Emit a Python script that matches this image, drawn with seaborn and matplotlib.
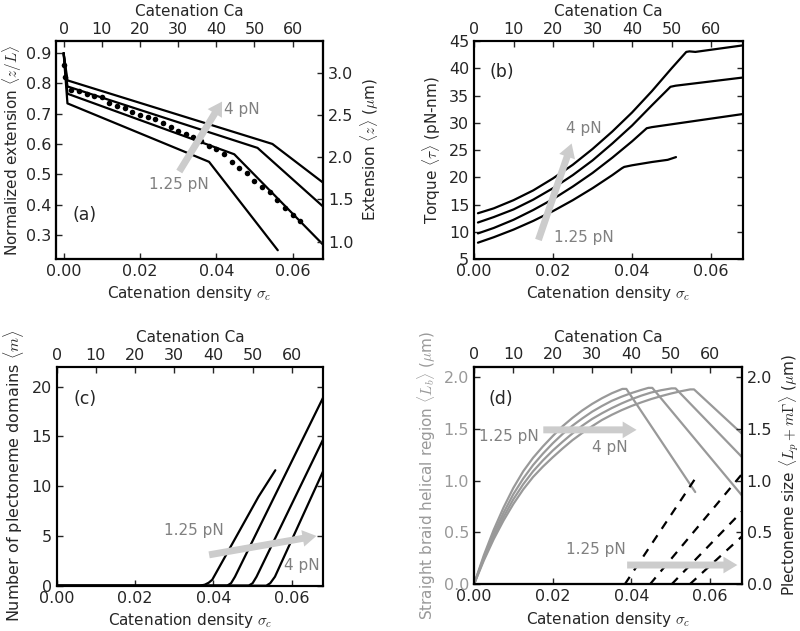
import matplotlib
matplotlib.use('Agg')
import matplotlib.pyplot as plt
import seaborn as sns

sns.set_style('ticks')
plt.rcParams['font.family'] = ['DejaVu Sans']
plt.rcParams['mathtext.fontset'] = 'cm'
plt.rcParams['xtick.direction'] = 'in'
plt.rcParams['ytick.direction'] = 'in'
plt.rcParams['xtick.major.size'] = 4.5
plt.rcParams['ytick.major.size'] = 4.5
plt.rcParams['xtick.major.width'] = 1.0
plt.rcParams['ytick.major.width'] = 1.0
plt.rcParams['xtick.labelsize'] = 11.5
plt.rcParams['ytick.labelsize'] = 11.5
plt.rcParams['axes.labelsize'] = 11
plt.rcParams['axes.linewidth'] = 1.5
plt.rcParams['axes.edgecolor'] = 'black'

# ---- (a) extension vs catenation density ----
sig_a_4 = [0.0, 0.001, 0.0547, 0.068]
ext_a_4 = [0.90, 0.81, 0.600, 0.472]
sig_a_3 = [0.0, 0.001, 0.0508, 0.068]
ext_a_3 = [0.90, 0.79, 0.587, 0.393]
sig_a_2 = [0.0, 0.001, 0.0447, 0.068]
ext_a_2 = [0.90, 0.766, 0.566, 0.267]
sig_a_1 = [0.0, 0.001, 0.0381, 0.0561]
ext_a_1 = [0.90, 0.734, 0.541, 0.249]

sig_dots = [0.0, 0.0004, 0.002, 0.004, 0.006, 0.008, 0.010, 0.012, 0.014, 0.016,
            0.018, 0.020, 0.022, 0.024, 0.026, 0.028, 0.030, 0.032, 0.034, 0.036,
            0.038, 0.040, 0.042, 0.044, 0.046, 0.048, 0.050, 0.052, 0.054, 0.056,
            0.058, 0.060, 0.062]
ext_dots = [0.862, 0.82, 0.777, 0.775, 0.766, 0.760, 0.754, 0.736, 0.727, 0.718,
            0.707, 0.697, 0.690, 0.681, 0.668, 0.657, 0.643, 0.633, 0.624, 0.610,
            0.593, 0.582, 0.566, 0.540, 0.521, 0.503, 0.478, 0.457, 0.441, 0.415,
            0.388, 0.366, 0.346]

# ---- (b) torque ----
sig_b_4 = [0.001, 0.005, 0.01, 0.015, 0.02, 0.025, 0.03, 0.035, 0.04, 0.045, 0.05,
           0.0537, 0.0545, 0.056, 0.068]
tau_b_4 = [13.4, 14.3, 15.8, 17.6, 19.8, 22.3, 25.2, 28.4, 31.9, 35.8, 40.0,
           43.0, 43.1, 43.0, 44.2]
sig_b_3 = [0.001, 0.005, 0.01, 0.015, 0.02, 0.025, 0.03, 0.035, 0.04, 0.045, 0.0497,
           0.051, 0.068]
tau_b_3 = [11.7, 12.7, 14.1, 15.9, 18.0, 20.4, 23.1, 26.2, 29.5, 33.2, 36.6,
           36.8, 38.3]
sig_b_2 = [0.001, 0.005, 0.01, 0.015, 0.02, 0.025, 0.03, 0.035, 0.04, 0.0437, 0.045, 0.068]
tau_b_2 = [9.7, 10.7, 12.2, 14.0, 16.0, 18.3, 20.8, 23.6, 26.6, 29.0, 29.2, 31.6]
sig_b_1 = [0.001, 0.005, 0.01, 0.015, 0.02, 0.025, 0.03, 0.035, 0.0374, 0.038, 0.040,
           0.045, 0.049, 0.0511]
tau_b_1 = [8.0, 9.0, 10.4, 12.0, 13.8, 15.8, 18.0, 20.4, 21.65, 21.9, 22.2,
           22.8, 23.2, 23.7]

# ---- (c) number of plectoneme domains ----
sig_c_1 = [0.0, 0.0365, 0.0378, 0.0388, 0.0397, 0.0515, 0.0558]
m_c_1 = [0.0, 0.0, 0.1, 0.3, 0.6, 8.94, 11.6]
sig_c_2 = [0.0, 0.0435, 0.0445, 0.0455, 0.068]
m_c_2 = [0.0, 0.0, 0.25, 0.9, 18.9]
sig_c_3 = [0.0, 0.049, 0.050, 0.051, 0.068]
m_c_3 = [0.0, 0.0, 0.25, 0.9, 14.7]
sig_c_4 = [0.0, 0.0535, 0.0545, 0.0557, 0.068]
m_c_4 = [0.0, 0.0, 0.25, 0.9, 11.5]

# ---- (d) braid region and plectoneme size ----
sig_d_1 = [0.0, 0.0025, 0.005, 0.0075, 0.01, 0.0125, 0.015, 0.0175, 0.02, 0.0225,
           0.025, 0.0275, 0.03, 0.0325, 0.035, 0.0377, 0.0387, 0.0562]
lb_d_1 = [0.0, 0.28, 0.525, 0.74, 0.93, 1.09, 1.22, 1.33, 1.43, 1.525,
          1.605, 1.677, 1.74, 1.795, 1.843, 1.885, 1.885, 0.89]
sig_d_2 = [0.0, 0.0025, 0.005, 0.0075, 0.01, 0.0125, 0.015, 0.0175, 0.02, 0.0225,
           0.025, 0.0275, 0.03, 0.0325, 0.035, 0.0375, 0.04, 0.0425, 0.0443, 0.0453, 0.068]
lb_d_2 = [0.0, 0.26, 0.49, 0.69, 0.87, 1.02, 1.15, 1.26, 1.36, 1.45,
          1.53, 1.60, 1.665, 1.72, 1.77, 1.81, 1.845, 1.875, 1.895, 1.895, 0.86]
sig_d_3 = [0.0, 0.0025, 0.005, 0.0075, 0.01, 0.0125, 0.015, 0.0175, 0.02, 0.0225,
           0.025, 0.0275, 0.03, 0.0325, 0.035, 0.0375, 0.04, 0.0425, 0.045, 0.0475,
           0.0502, 0.0512, 0.068]
lb_d_3 = [0.0, 0.245, 0.46, 0.65, 0.82, 0.965, 1.09, 1.195, 1.29, 1.375,
          1.455, 1.53, 1.595, 1.65, 1.70, 1.745, 1.785, 1.82, 1.85, 1.872,
          1.89, 1.89, 1.23]
sig_d_4 = [0.0, 0.0025, 0.005, 0.0075, 0.01, 0.0125, 0.015, 0.0175, 0.02, 0.0225,
           0.025, 0.0275, 0.03, 0.0325, 0.035, 0.0375, 0.04, 0.0425, 0.045, 0.0475,
           0.05, 0.0525, 0.0549, 0.0559, 0.068]
lb_d_4 = [0.0, 0.23, 0.435, 0.615, 0.775, 0.915, 1.035, 1.135, 1.225, 1.31,
          1.39, 1.46, 1.525, 1.585, 1.635, 1.68, 1.72, 1.755, 1.787, 1.815,
          1.84, 1.862, 1.88, 1.88, 1.455]

sig_p_1 = [0.0383, 0.0562]
lp_p_1 = [0.0, 1.02]
sig_p_2 = [0.0447, 0.068]
lp_p_2 = [0.0, 1.06]
sig_p_3 = [0.0502, 0.068]
lp_p_3 = [0.0, 0.70]
sig_p_4 = [0.0548, 0.068]
lp_p_4 = [0.0, 0.46]

ca_ticks = [0, 10, 20, 30, 40, 50, 60]
sig_ticks = [0.00, 0.02, 0.04, 0.06]

ARROW = '#cccccc'
TXT = '0.5'
GREY = '0.6'
LW = 1.6
FS_NOTE = 11
FS_TAG = 12.5

fig = plt.figure(figsize=(8, 6.31), dpi=100)


def add_top(ax, lo, hi):
    top = ax.twiny()
    top.set_xlim(lo * 1000, hi * 1000)
    top.set_xticks(ca_ticks)
    top.set_xlabel('Catenation Ca', labelpad=4)
    top.tick_params(axis='x', direction='in', pad=3)
    for s in top.spines.values():
        s.set_linewidth(1.5)
    return top


def arrow(ax, tail, tip):
    ax.annotate('', xy=tip, xytext=tail,
                arrowprops=dict(facecolor=ARROW, edgecolor='none', width=5,
                                headwidth=12, headlength=10, shrink=0))


xlab = r'Catenation density $\sigma_c$'

# (a)
ax = fig.add_axes([0.070, 0.5895, 0.334, 0.3455])
for s, e in [(sig_a_4, ext_a_4), (sig_a_3, ext_a_3), (sig_a_2, ext_a_2), (sig_a_1, ext_a_1)]:
    sns.lineplot(x=s, y=e, ax=ax, color='k', lw=LW)
sns.scatterplot(x=sig_dots, y=ext_dots, ax=ax, color='k', s=16, linewidth=0)
ax.set_xlim(-0.002, 0.068)
ax.set_ylim(0.22, 0.94)
ax.set_xticks(sig_ticks)
ax.set_yticks([0.3, 0.4, 0.5, 0.6, 0.7, 0.8, 0.9])
ax.set_xlabel(xlab)
ax.set_ylabel(r'Normalized extension $\langle z/L\rangle$', labelpad=1)
arrow(ax, (0.0303, 0.509), (0.0415, 0.740))
ax.text(0.0421, 0.715, '4 pN', color=TXT, fontsize=FS_NOTE, ha='left', va='center')
ax.text(0.0303, 0.467, '1.25 pN', color=TXT, fontsize=FS_NOTE, ha='center', va='center')
ax.text(0.0054, 0.366, '(a)', fontsize=FS_TAG, ha='center', va='center')
axr = ax.twinx()
axr.set_ylim(0.22 * 3.6, 0.94 * 3.6)
axr.set_yticks([1.0, 1.5, 2.0, 2.5, 3.0])
axr.set_ylabel(r'Extension $\langle z\rangle$ ($\mu$m)')
axr.tick_params(axis='y', direction='in')
add_top(ax, -0.002, 0.068)

# (b)
ax = fig.add_axes([0.5925, 0.5895, 0.336, 0.3455])
for s, t in [(sig_b_4, tau_b_4), (sig_b_3, tau_b_3), (sig_b_2, tau_b_2), (sig_b_1, tau_b_1)]:
    sns.lineplot(x=s, y=t, ax=ax, color='k', lw=LW)
ax.set_xlim(0, 0.068)
ax.set_ylim(5, 45)
ax.set_xticks(sig_ticks)
ax.set_yticks([5, 10, 15, 20, 25, 30, 35, 40, 45])
ax.tick_params(axis='y', right=True)
ax.set_xlabel(xlab)
ax.set_ylabel(r'Torque $\langle\tau\rangle$ (pN-nm)')
arrow(ax, (0.0163, 8.5), (0.0247, 26.2))
ax.text(0.0277, 29.0, '4 pN', color=TXT, fontsize=FS_NOTE, ha='center', va='center')
ax.text(0.0277, 9.0, '1.25 pN', color=TXT, fontsize=FS_NOTE, ha='center', va='center')
ax.text(0.0070, 39.3, '(b)', fontsize=FS_TAG, ha='center', va='center')
add_top(ax, 0, 0.068)

# (c)
ax = fig.add_axes([0.0709, 0.0718, 0.333, 0.347])
for s, m in [(sig_c_1, m_c_1), (sig_c_2, m_c_2), (sig_c_3, m_c_3), (sig_c_4, m_c_4)]:
    sns.lineplot(x=s, y=m, ax=ax, color='k', lw=LW)
ax.set_xlim(0, 0.068)
ax.set_ylim(0, 22)
ax.set_xticks(sig_ticks)
ax.set_yticks([0, 5, 10, 15, 20])
ax.tick_params(axis='y', right=True)
ax.set_xlabel(xlab)
ax.set_ylabel(r'Number of plectoneme domains $\langle m\rangle$', fontsize=11.5, labelpad=4)
arrow(ax, (0.0389, 3.1), (0.0663, 5.0))
ax.text(0.0349, 5.5, '1.25 pN', color=TXT, fontsize=FS_NOTE, ha='center', va='center')
ax.text(0.0625, 2.0, '4 pN', color=TXT, fontsize=FS_NOTE, ha='center', va='center')
ax.text(0.0072, 18.8, '(c)', fontsize=FS_TAG, ha='center', va='center')
add_top(ax, 0, 0.068)

# (d)
ax = fig.add_axes([0.5925, 0.074, 0.3346, 0.345])
for s, l in [(sig_d_1, lb_d_1), (sig_d_2, lb_d_2), (sig_d_3, lb_d_3), (sig_d_4, lb_d_4)]:
    sns.lineplot(x=s, y=l, ax=ax, color=GREY, lw=LW)
for s, l in [(sig_p_1, lp_p_1), (sig_p_2, lp_p_2), (sig_p_3, lp_p_3), (sig_p_4, lp_p_4)]:
    sns.lineplot(x=s, y=l, ax=ax, color='k', lw=LW, linestyle=(0, (4, 3.5)))
ax.set_xlim(0, 0.068)
ax.set_ylim(0, 2.1)
ax.set_xticks(sig_ticks)
ax.set_yticks([0.0, 0.5, 1.0, 1.5, 2.0])
ax.tick_params(axis='y', labelcolor=GREY)
ax.set_xlabel(xlab)
ax.set_ylabel(r'Straight braid helical region $\langle L_b\rangle$ ($\mu$m)', color=GREY)
arrow(ax, (0.0176, 1.49), (0.0413, 1.49))
arrow(ax, (0.0389, 0.186), (0.0669, 0.186))
ax.text(0.0089, 1.43, '1.25 pN', color=TXT, fontsize=FS_NOTE, ha='center', va='center')
ax.text(0.0345, 1.32, '4 pN', color=TXT, fontsize=FS_NOTE, ha='center', va='center')
ax.text(0.0309, 0.337, '1.25 pN', color=TXT, fontsize=FS_NOTE, ha='center', va='center')
ax.text(0.0068, 1.79, '(d)', fontsize=FS_TAG, ha='center', va='center')
axr = ax.twinx()
axr.set_ylim(0, 2.1)
axr.set_yticks([0.0, 0.5, 1.0, 1.5, 2.0])
axr.set_ylabel(r'Plectoneme size $\langle L_p + m\Gamma\rangle$ ($\mu$m)')
axr.tick_params(axis='y', direction='in')
add_top(ax, 0, 0.068)

fig.savefig('out.png', dpi=100)
